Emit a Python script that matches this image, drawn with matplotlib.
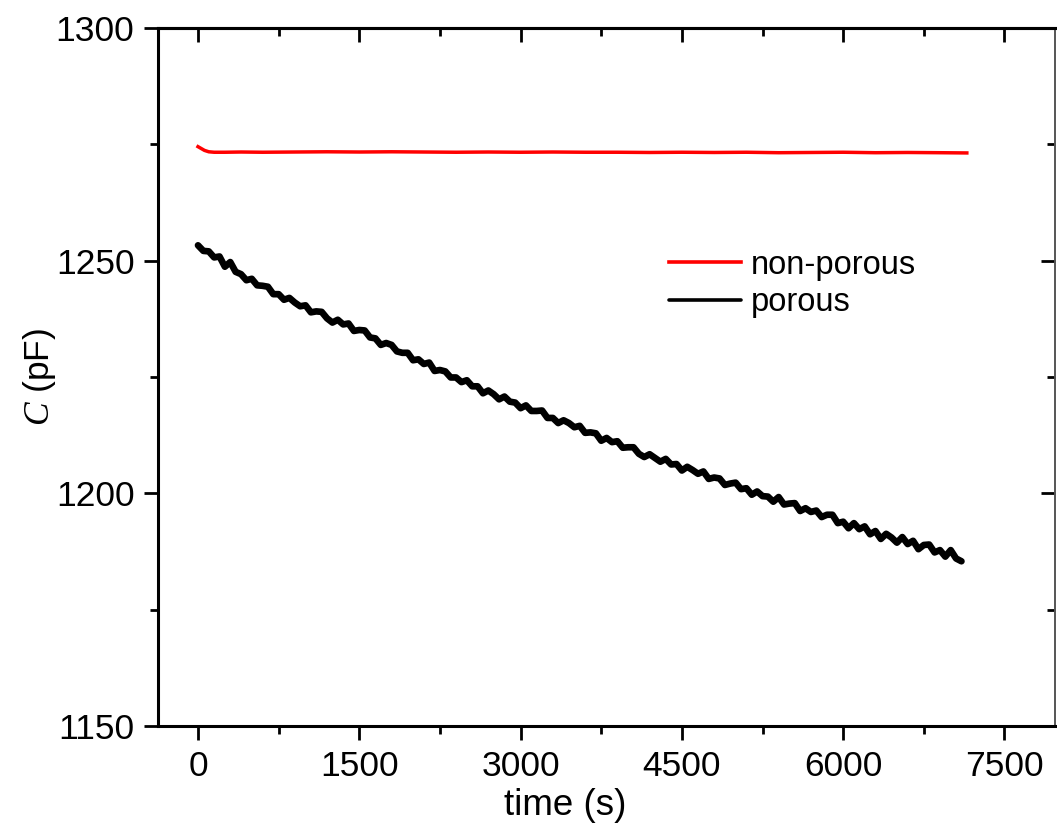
import numpy as np
import matplotlib
matplotlib.use("Agg")
import matplotlib.pyplot as plt
from matplotlib.ticker import MultipleLocator

plt.rcParams['font.family'] = ['Liberation Sans', 'DejaVu Sans']
plt.rcParams['mathtext.fontset'] = 'custom'
plt.rcParams['mathtext.it'] = 'Liberation Serif:italic'
plt.rcParams['mathtext.rm'] = 'Liberation Sans'

# ---- data ----
labels = ["non-porous", "porous"]

nonporous_t = [0, 30, 60, 100, 150, 250, 400, 600, 900, 1200, 1500, 1800, 2100, 2400,
               2700, 3000, 3300, 3600, 3900, 4200, 4500, 4800, 5100, 5400, 5700, 6000,
               6300, 6600, 6900, 7150]
nonporous_c = [1274.5, 1274.1, 1273.7, 1273.4, 1273.3, 1273.3, 1273.35, 1273.3, 1273.35,
               1273.4, 1273.35, 1273.4, 1273.35, 1273.3, 1273.35, 1273.3, 1273.35, 1273.3,
               1273.3, 1273.25, 1273.3, 1273.25, 1273.3, 1273.2, 1273.25, 1273.3, 1273.2,
               1273.25, 1273.2, 1273.15]

porous_t = np.arange(0, 7101, 50)
porous_c = [
    1253.3, 1252.1, 1252.0, 1250.7, 1250.9, 1248.7, 1249.7, 1247.6, 1247.1, 1245.8,
    1246.1, 1244.7, 1244.6, 1244.4, 1242.8, 1242.8, 1241.6, 1242.0, 1241.0, 1240.2,
    1240.4, 1238.9, 1239.1, 1239.0, 1237.6, 1236.7, 1237.3, 1236.3, 1236.5, 1234.9,
    1235.1, 1235.0, 1233.5, 1233.3, 1231.9, 1232.3, 1231.9, 1230.5, 1230.2, 1230.2,
    1228.6, 1228.8, 1227.8, 1228.1, 1226.3, 1226.5, 1226.2, 1224.9, 1224.9, 1223.9,
    1224.3, 1223.0, 1223.0, 1221.5, 1222.1, 1221.3, 1220.2, 1220.8, 1219.7, 1219.5,
    1218.3, 1218.9, 1217.7, 1217.7, 1217.8, 1216.2, 1216.2, 1215.1, 1215.7, 1215.1,
    1214.2, 1214.5, 1213.0, 1213.1, 1212.9, 1211.3, 1211.9, 1211.0, 1211.2, 1209.8,
    1209.9, 1209.9, 1208.5, 1207.8, 1208.4, 1207.6, 1206.8, 1207.4, 1206.2, 1206.3,
    1204.9, 1205.7, 1205.0, 1204.2, 1204.7, 1203.1, 1203.4, 1203.2, 1201.8, 1202.1,
    1202.3, 1200.9, 1201.1, 1199.7, 1200.4, 1199.4, 1199.3, 1198.2, 1199.2, 1197.6,
    1197.8, 1197.9, 1196.2, 1196.8, 1196.0, 1196.3, 1194.9, 1195.4, 1195.4, 1193.6,
    1193.9, 1192.5, 1193.6, 1192.3, 1192.9, 1191.2, 1191.9, 1190.2, 1191.3, 1190.5,
    1189.4, 1190.6, 1189.1, 1189.8, 1188.0, 1188.9, 1189.0, 1187.3, 1187.8, 1186.4,
    1187.8, 1186.0, 1185.4,
]

x_major = [0, 1500, 3000, 4500, 6000, 7500]
y_major = [1150, 1200, 1250, 1300]

# ---- figure ----
fig = plt.figure(figsize=(10.57, 8.36), dpi=100)
ax = fig.add_axes([158/1057, 1 - 726/836, (1055 - 158)/1057, (726 - 28)/836])

ln1, = ax.plot(nonporous_t, nonporous_c, color='#ff0000', lw=2.5, label=labels[0])
ln2, = ax.plot(porous_t, porous_c, color='black', lw=4.8, label=labels[1],
               solid_joinstyle='round', solid_capstyle='round')

ax.set_xlim(-372, 7970)
ax.set_ylim(1150, 1300)

fs = 25.5
ax.xaxis.set_minor_locator(MultipleLocator(750))
ax.yaxis.set_minor_locator(MultipleLocator(25))
ax.set_xticks(x_major)
ax.set_yticks(y_major)
ax.tick_params(which='major', direction='out', length=10, width=2.0, labelsize=fs, pad=7)
ax.tick_params(which='minor', direction='out', length=6, width=2.0)
ax.tick_params(top=False, right=False)

for side in ['left', 'bottom', 'top']:
    ax.spines[side].set_linewidth(2.2)
ax.spines['right'].set_linewidth(1.2)
ax.spines['right'].set_color('#555555')

# inward ticks on top and right
secx = ax.secondary_xaxis('top')
secx.set_xticks(x_major)
secx.xaxis.set_minor_locator(MultipleLocator(750))
secx.tick_params(which='major', direction='in', length=10, width=2.0, labeltop=False)
secx.tick_params(which='minor', direction='in', length=6, width=2.0)
secx.spines['top'].set_linewidth(2.2)

secy = ax.secondary_yaxis('right')
secy.set_yticks(y_major)
secy.yaxis.set_minor_locator(MultipleLocator(25))
secy.tick_params(which='major', direction='in', length=10, width=2.0, labelright=False)
secy.tick_params(which='minor', direction='in', length=6, width=2.0)
secy.spines['right'].set_linewidth(1.2)
secy.spines['right'].set_color('#555555')

ax.set_xlabel('time (s)', fontsize=26.5)
ax.xaxis.set_label_coords(0.454, -0.089)
ax.set_ylabel(r'$\mathit{C}$ (pF)', fontsize=fs)
ax.yaxis.set_label_coords(-0.112, 0.5)

leg = ax.legend(handles=[ln1, ln2], loc='center left', bbox_to_anchor=(0.570, 0.633),
                frameon=False, fontsize=23.5, handlelength=2.2, handletextpad=0.3,
                labelspacing=0.2, borderpad=0, borderaxespad=0)
for h in leg.get_lines():
    h.set_linewidth(2.6)

fig.savefig('out.png', dpi=100)
